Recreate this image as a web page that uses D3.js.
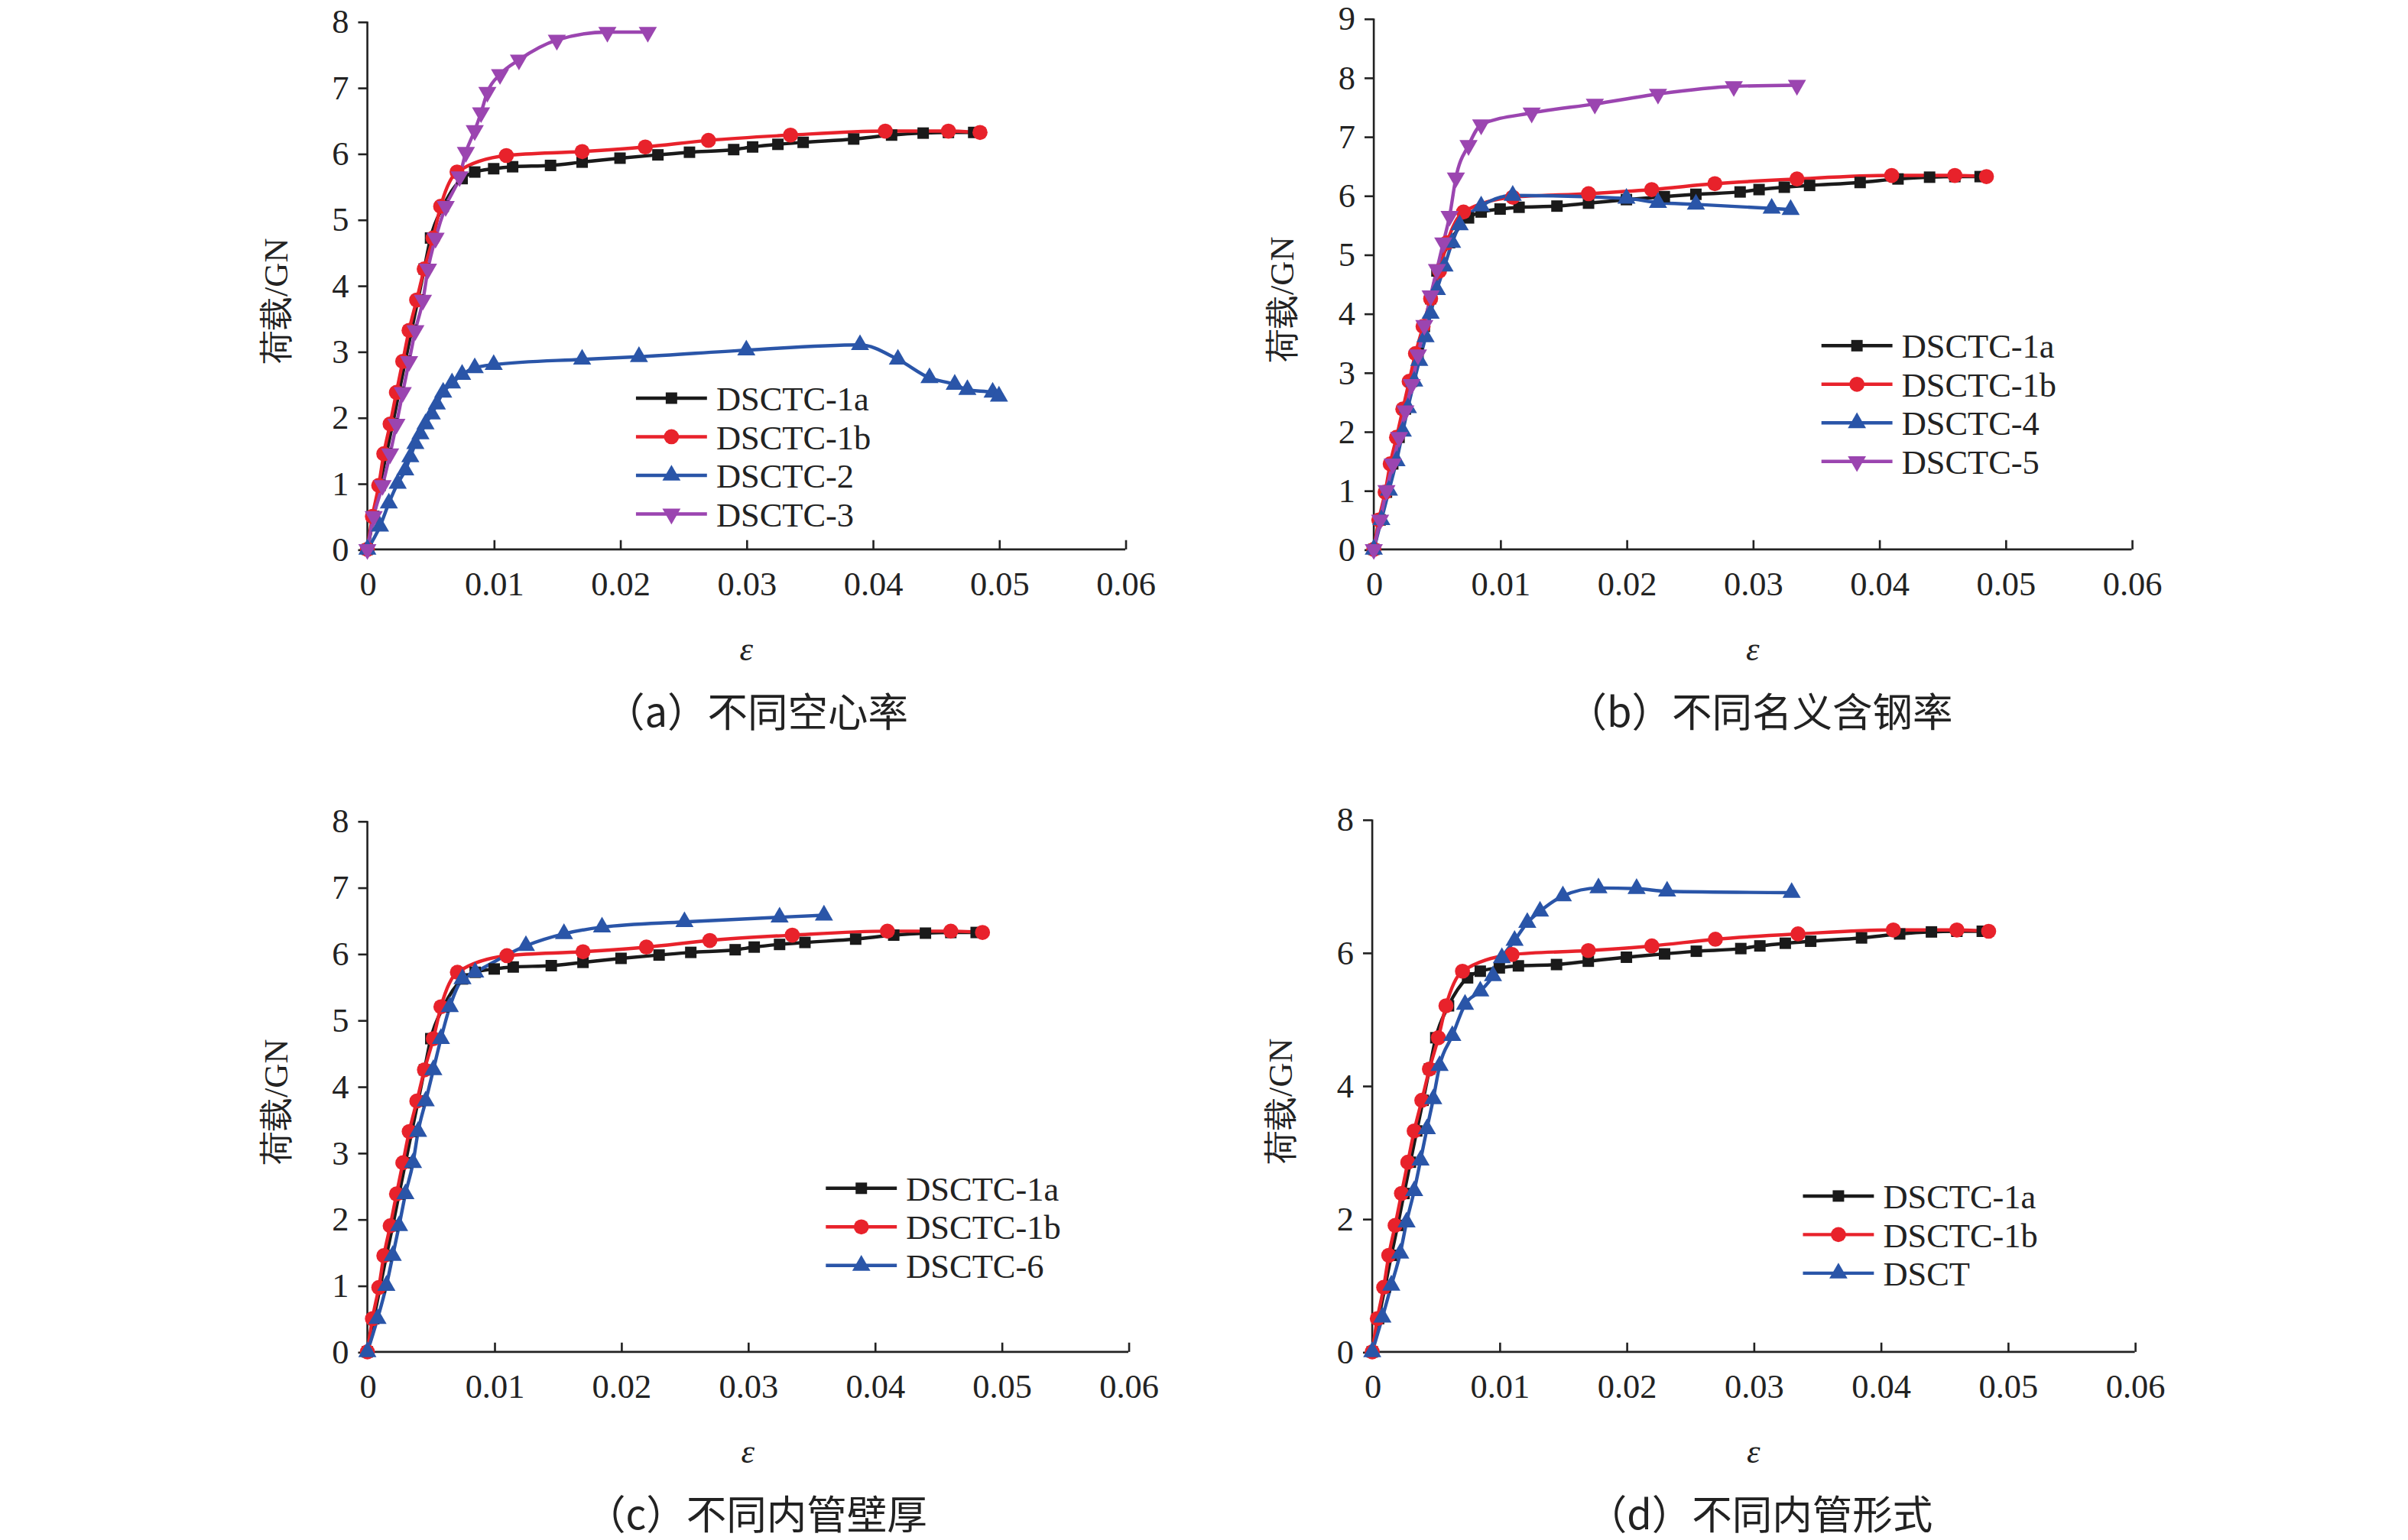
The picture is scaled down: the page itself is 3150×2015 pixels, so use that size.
<!DOCTYPE html>
<html><head><meta charset="utf-8">
<script src="https://cdn.jsdelivr.net/npm/d3@7"></script>
<style>body{margin:0;background:#fff}text{font-family:"Liberation Serif","DejaVu Serif",serif;fill:#222}</style>
</head><body>
<svg id="c" width="3150" height="2015"></svg>
<script>
// series data: [strain, load GN]
var s1a = [[0,0],[0.0005,0.5],[0.001,0.97],[0.0015,1.45],[0.002,1.9],[0.0025,2.38],[0.003,2.85],[0.0035,3.32],[0.004,3.78],[0.0045,4.25],[0.005,4.72],[0.006,5.2],[0.0075,5.62],[0.0085,5.72],[0.01,5.77],[0.0115,5.8],[0.0145,5.82],[0.017,5.87],[0.02,5.93],[0.023,5.98],[0.0255,6.02],[0.029,6.06],[0.0305,6.1],[0.0325,6.14],[0.0345,6.17],[0.0385,6.22],[0.0415,6.28],[0.044,6.31],[0.046,6.32],[0.048,6.32]];
var s1b = [[0,0],[0.0004,0.5],[0.0009,0.97],[0.0013,1.45],[0.0018,1.9],[0.0023,2.38],[0.0028,2.85],[0.0033,3.32],[0.0039,3.78],[0.0045,4.25],[0.0052,4.72],[0.0058,5.2],[0.0071,5.72],[0.011,5.97],[0.017,6.03],[0.022,6.1],[0.027,6.2],[0.0335,6.28],[0.041,6.34],[0.046,6.34],[0.0485,6.32]];
var s2 = [[0,0],[0.001,0.35],[0.0017,0.7],[0.0024,1.0],[0.003,1.2],[0.0034,1.4],[0.0038,1.6],[0.0042,1.75],[0.0046,1.9],[0.0051,2.05],[0.0055,2.2],[0.006,2.38],[0.0067,2.52],[0.0075,2.65],[0.0085,2.75],[0.01,2.8],[0.017,2.88],[0.0215,2.92],[0.03,3.02],[0.039,3.1],[0.042,2.88],[0.0445,2.6],[0.0465,2.5],[0.0475,2.42],[0.0495,2.38],[0.05,2.32]];
var s3 = [[0,0],[0.0005,0.5],[0.0012,0.97],[0.0018,1.45],[0.0023,1.9],[0.0028,2.38],[0.0033,2.85],[0.0038,3.32],[0.0044,3.78],[0.0048,4.25],[0.0054,4.72],[0.0062,5.2],[0.0073,5.65],[0.0078,6.02],[0.0085,6.35],[0.009,6.62],[0.0095,6.93],[0.0105,7.2],[0.012,7.42],[0.015,7.72],[0.019,7.84],[0.0222,7.84]];
var s4 = [[0,0],[0.0006,0.5],[0.0012,1.0],[0.0018,1.5],[0.0023,2.0],[0.0027,2.4],[0.0032,2.85],[0.0036,3.2],[0.0041,3.6],[0.0045,4.0],[0.005,4.4],[0.0056,4.8],[0.0062,5.2],[0.0068,5.5],[0.0085,5.82],[0.011,6.0],[0.02,5.95],[0.0225,5.88],[0.0255,5.85],[0.0315,5.78],[0.033,5.76]];
var s5 = [[0,0],[0.0005,0.5],[0.001,1.0],[0.0015,1.45],[0.002,1.9],[0.0025,2.35],[0.003,2.8],[0.0035,3.3],[0.004,3.8],[0.0045,4.3],[0.005,4.75],[0.0055,5.2],[0.006,5.65],[0.0065,6.3],[0.0075,6.85],[0.0085,7.2],[0.0125,7.4],[0.0175,7.55],[0.0225,7.72],[0.0285,7.85],[0.0335,7.87]];
var s6 = [[0,0],[0.0008,0.5],[0.0015,1.0],[0.002,1.45],[0.0025,1.9],[0.003,2.38],[0.0036,2.85],[0.004,3.32],[0.0046,3.78],[0.0052,4.25],[0.0058,4.72],[0.0065,5.2],[0.0075,5.62],[0.0085,5.72],[0.0125,6.12],[0.0155,6.3],[0.0185,6.4],[0.025,6.48],[0.0325,6.55],[0.036,6.58]];
var sT = [[0,0],[0.0008,0.52],[0.0015,1.0],[0.0022,1.48],[0.0027,1.95],[0.0033,2.42],[0.0038,2.88],[0.0043,3.35],[0.0048,3.8],[0.0053,4.3],[0.0063,4.75],[0.0073,5.22],[0.0085,5.42],[0.0095,5.65],[0.0102,5.92],[0.0112,6.18],[0.0122,6.45],[0.0132,6.62],[0.015,6.85],[0.0178,6.97],[0.0208,6.96],[0.0232,6.92],[0.033,6.9]];

var xTicks = [0,0.01,0.02,0.03,0.04,0.05,0.06];
var yTicks8 = [0,1,2,3,4,5,6,7,8];
var yTicks9 = [0,1,2,3,4,5,6,7,8,9];
var yTicksD = [0,2,4,6,8];

var styles = {
  "DSCTC-1a": {c:"#1a1a1a", m:d3.symbolSquare},
  "DSCTC-1b": {c:"#e8222b", m:d3.symbolCircle},
  "DSCTC-2": {c:"#2a55a8", m:d3.symbolTriangle},
  "DSCTC-4": {c:"#2a55a8", m:d3.symbolTriangle},
  "DSCTC-6": {c:"#2a55a8", m:d3.symbolTriangle},
  "DSCT": {c:"#2a55a8", m:d3.symbolTriangle},
  "DSCTC-3": {c:"#9b45b0", m:"down"},
  "DSCTC-5": {c:"#9b45b0", m:"down"}
};

var panels = [
  {x0:238, y0:356, x1:729, y1:14, ymax:8, yt:yTicks8, cap:"（a）不同空心率", capx:490, capy:462,
   series:[["DSCTC-1a",s1a],["DSCTC-1b",s1b],["DSCTC-2",s2],["DSCTC-3",s3]], lx:412, ly:258},
  {x0:890, y0:356, x1:1381, y1:12, ymax:9, yt:yTicks9, cap:"（b）不同名义含钢率", capx:1140, capy:462,
   series:[["DSCTC-1a",s1a],["DSCTC-1b",s1b],["DSCTC-4",s4],["DSCTC-5",s5]], lx:1180, ly:224},
  {x0:238, y0:876, x1:731, y1:532, ymax:8, yt:yTicks8, cap:"（c）不同内管壁厚", capx:490, capy:982,
   series:[["DSCTC-1a",s1a],["DSCTC-1b",s1b],["DSCTC-6",s6]], lx:535, ly:770},
  {x0:889, y0:876, x1:1383, y1:531, ymax:8, yt:yTicksD, cap:"（d）不同内管形式", capx:1140, capy:982,
   series:[["DSCTC-1a",s1a],["DSCTC-1b",s1b],["DSCT",sT]], lx:1168, ly:775}
];

var k = 3150/1560;
var root = d3.select("#c").append("g").attr("transform","scale("+k+")");

function marker(g, st, x, y) {
  if (st.m === "down") {
    g.append("path").attr("d", d3.symbol(d3.symbolTriangle, 60)())
      .attr("transform","translate("+x+","+y+") rotate(180)").attr("fill", st.c);
  } else {
    var size = st.m === d3.symbolSquare ? 55 : st.m === d3.symbolCircle ? 75 : 60;
    g.append("path").attr("d", d3.symbol(st.m, size)())
      .attr("transform","translate("+x+","+y+")").attr("fill", st.c);
  }
}

panels.forEach(function(p){
  var x = d3.scaleLinear().domain([0,0.06]).range([p.x0,p.x1]);
  var y = d3.scaleLinear().domain([0,p.ymax]).range([p.y0,p.y1]);
  var g = root.append("g");

  var ax = g.append("g").attr("transform","translate(0,"+p.y0+")")
    .call(d3.axisBottom(x).tickValues(xTicks).tickFormat(function(d){return d===0?"0":d3.format(".2f")(d);}).tickSize(-6).tickPadding(14));
  var ay = g.append("g").attr("transform","translate("+p.x0+",0)")
    .call(d3.axisLeft(y).tickValues(p.yt).tickSize(6).tickPadding(6));
  [ax,ay].forEach(function(a){
    a.select(".domain").attr("stroke","#222").attr("stroke-width",1.3);
    a.selectAll(".tick line").attr("stroke","#222").attr("stroke-width",1.3);
    a.selectAll("text").attr("font-size",22).attr("fill","#222").style("font-family","Liberation Serif");
  });
  ax.select(".domain").attr("d","M"+p.x0+",0H"+p.x1);
  ay.select(".domain").attr("d","M0,"+p.y0+"V"+p.y1);

  g.append("text").attr("x",(p.x0+p.x1)/2).attr("y",p.y0+72).attr("text-anchor","middle")
    .attr("font-size",22).attr("font-style","italic").text("ε");
  g.append("text").attr("transform","translate("+(p.x0-52)+","+((p.y0+p.y1)/2+10)+") rotate(-90)")
    .attr("text-anchor","middle").attr("font-size",22).text("荷载/GN");
  g.append("text").attr("x",p.capx).attr("y",p.capy+9).attr("text-anchor","middle")
    .attr("font-size",26).style("font-family","'Noto Sans CJK SC', 'Liberation Serif', serif").text(p.cap);

  var line = d3.line().x(function(d){return x(d[0]);}).y(function(d){return y(d[1]);}).curve(d3.curveMonotoneX);
  p.series.forEach(function(s){
    var st = styles[s[0]];
    g.append("path").attr("d", line(s[1])).attr("fill","none").attr("stroke",st.c).attr("stroke-width",2.2);
  });
  p.series.forEach(function(s){
    var st = styles[s[0]];
    s[1].forEach(function(d){ marker(g, st, x(d[0]), y(d[1])); });
  });

  p.series.forEach(function(s,i){
    var st = styles[s[0]], ly = p.ly + i*25;
    g.append("line").attr("x1",p.lx).attr("x2",p.lx+46).attr("y1",ly).attr("y2",ly)
      .attr("stroke",st.c).attr("stroke-width",2.2);
    marker(g, st, p.lx+23, ly);
    g.append("text").attr("x",p.lx+52).attr("y",ly+8).attr("font-size",22).text(s[0]);
  });
});
</script>
</body></html>
